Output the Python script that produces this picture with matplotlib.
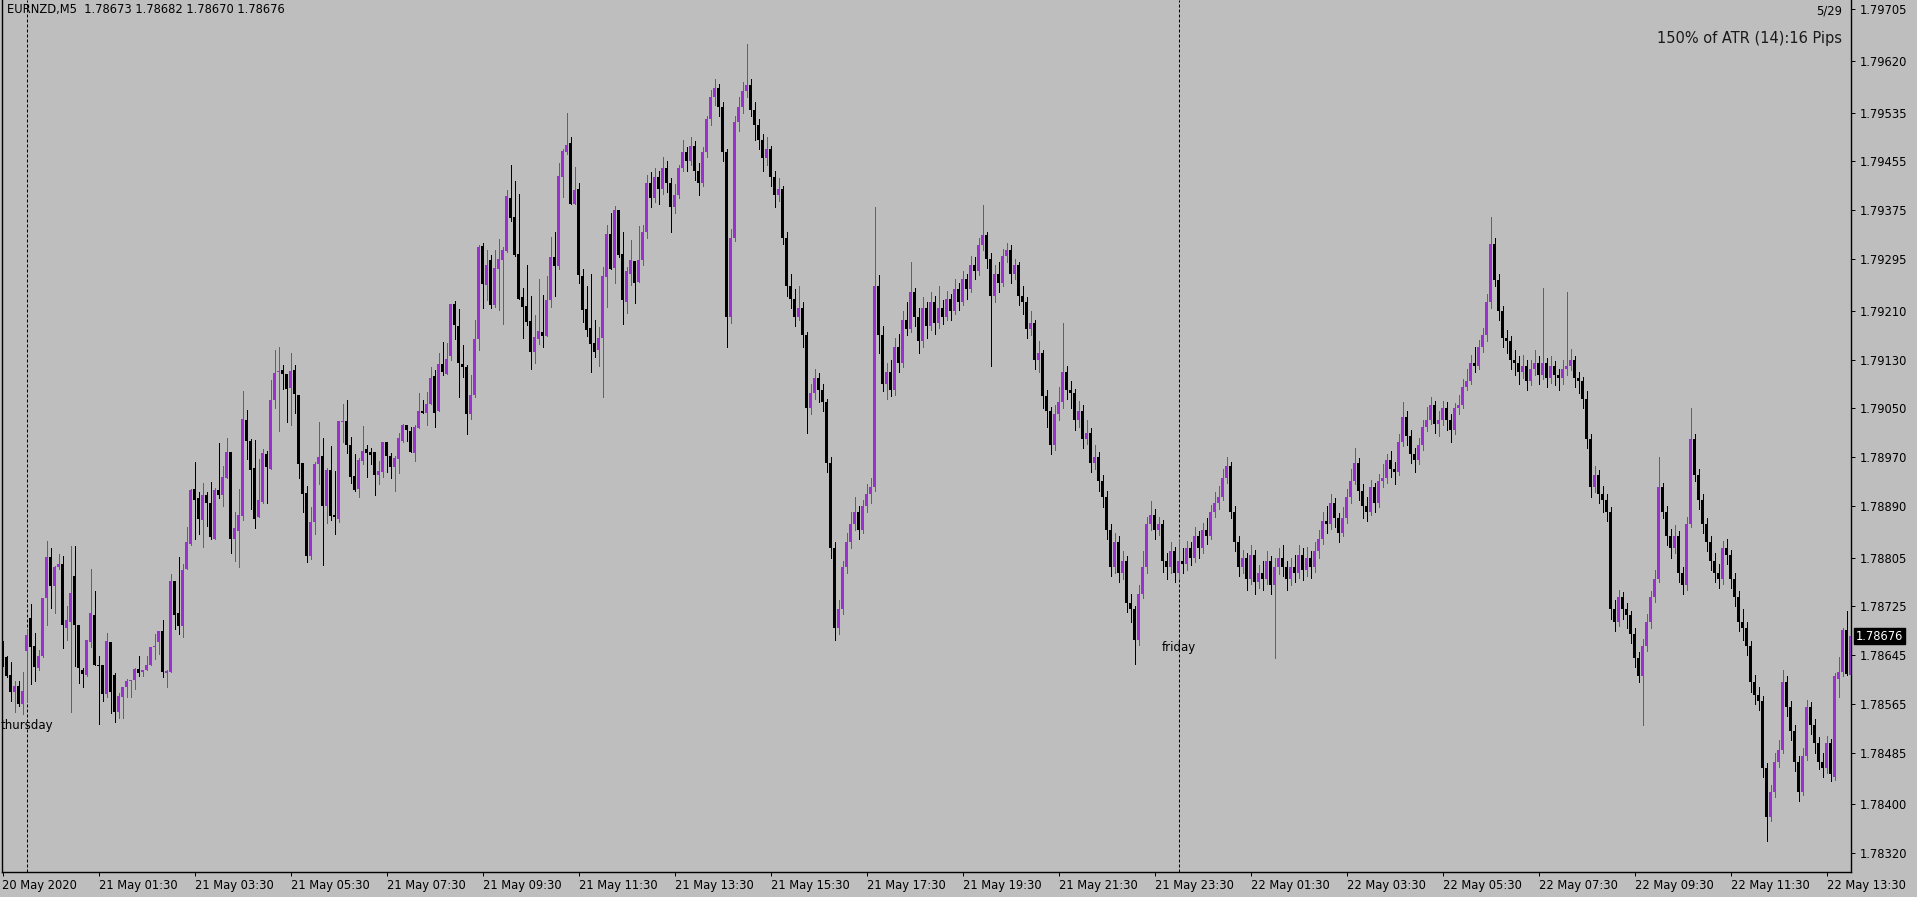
import numpy as np
import matplotlib
matplotlib.use("Agg")
import matplotlib.pyplot as plt

# Datos (EURNZD M5, precios en puntos sobre 1.78000)
symbol = "EURNZD,M5"
last_quote = "1.78673 1.78682 1.78670 1.78676"
atr_text = "150% of ATR (14):16 Pips"
bar_count_text = "5/29"
last_price = 1.78676

opens = [666, 642, 613, 585, 594, 564, 652, 706, 660, 623, 643, 738, 806, 758, 789, 795, 689, 700, 775, 694,
         621, 613, 666, 711, 629, 629, 581, 667, 612, 551, 577, 592, 602, 604, 622, 618, 621, 629, 659, 667,
         684, 615, 618, 767, 714, 693, 787, 827, 918, 903, 867, 908, 895, 836, 916, 908, 936, 978, 835, 849,
         873, 1031, 996, 952, 871, 897, 975, 951, 1063, 1110, 1113, 1106, 1084, 1113, 1072, 960, 911, 808, 864, 958,
         972, 889, 949, 875, 869, 1028, 1029, 990, 939, 917, 963, 983, 979, 979, 940, 946, 995, 972, 954, 966,
         997, 1023, 1013, 976, 1018, 1046, 1043, 1057, 1103, 1046, 1123, 1107, 1135, 1221, 1185, 1123, 1118, 1041, 1071, 1164,
         1317, 1253, 1294, 1220, 1279, 1293, 1308, 1395, 1364, 1303, 1233, 1218, 1194, 1143, 1163, 1175, 1169, 1227, 1299, 1284,
         1430, 1471, 1486, 1386, 1410, 1267, 1213, 1182, 1157, 1145, 1165, 1266, 1336, 1281, 1376, 1303, 1225, 1271, 1292, 1258,
         1294, 1340, 1420, 1395, 1430, 1410, 1445, 1420, 1380, 1400, 1445, 1470, 1455, 1480, 1440, 1420, 1470, 1525, 1560, 1575,
         1545, 1470, 1200, 1330, 1520, 1545, 1570, 1580, 1540, 1515, 1490, 1460, 1475, 1430, 1400, 1410, 1330, 1250, 1230, 1200,
         1215, 1170, 1050, 1075, 1100, 1080, 1060, 960, 820, 690, 720, 790, 830, 860, 880, 850, 890, 910, 920, 1250,
         1170, 1090, 1110, 1080, 1150, 1125, 1195, 1180, 1240, 1200, 1160, 1215, 1185, 1225, 1190, 1215, 1200, 1230, 1210, 1245,
         1225, 1262, 1245, 1285, 1275, 1318, 1335, 1295, 1235, 1270, 1255, 1300, 1310, 1270, 1285, 1235, 1225, 1180, 1190, 1130,
         1140, 1070, 1045, 990, 1040, 1060, 1110, 1080, 1075, 1030, 1045, 1000, 1010, 960, 970, 930, 905, 850, 790, 830,
         780, 800, 730, 720, 670, 745, 790, 860, 875, 850, 860, 800, 790, 815, 780, 800, 795, 820, 805, 840,
         820, 850, 840, 880, 895, 905, 935, 955, 880, 830, 790, 805, 770, 810, 765, 780, 770, 800, 760, 790,
         805, 790, 770, 790, 780, 810, 785, 805, 790, 815, 835, 865, 860, 895, 870, 845, 870, 905, 930, 960,
         915, 890, 880, 920, 895, 930, 935, 965, 950, 945, 995, 1035, 1005, 975, 965, 990, 1020, 1030, 1055, 1025,
         1030, 1050, 1030, 1015, 1050, 1055, 1085, 1095, 1125, 1120, 1150, 1170, 1225, 1320, 1260, 1210, 1165, 1160, 1130, 1125,
         1110, 1120, 1095, 1115, 1125, 1105, 1125, 1100, 1120, 1105, 1100, 1115, 1120, 1130, 1100, 1095, 1065, 1000, 920, 940,
         910, 900, 880, 720, 700, 740, 720, 710, 680, 640, 610, 660, 700, 740, 770, 920, 880, 840, 820, 840,
         780, 760, 860, 1000, 940, 900, 860, 830, 800, 780, 770, 820, 810, 770, 740, 700, 690, 660, 600, 580,
         570, 460, 380, 420, 470, 490, 600, 560, 520, 470, 420, 480, 560, 530, 500, 470, 460, 500, 445, 605,
         617, 686, 612]
highs = [668, 643, 633, 603, 602, 617, 686, 729, 682, 653, 739, 832, 821, 791, 811, 808, 726, 824, 824, 694,
         623, 670, 786, 750, 643, 629, 681, 667, 615, 582, 593, 606, 604, 623, 643, 621, 643, 659, 680, 684,
         702, 621, 778, 767, 806, 795, 855, 918, 962, 913, 928, 913, 929, 919, 993, 955, 1001, 978, 880, 918,
         1079, 1047, 1000, 998, 967, 983, 980, 1097, 1146, 1151, 1121, 1106, 1141, 1121, 1072, 960, 923, 888, 962, 1028,
         1002, 952, 988, 947, 1029, 1057, 1064, 1003, 975, 969, 1021, 990, 985, 979, 964, 995, 995, 977, 972, 1009,
         1025, 1023, 1020, 1022, 1075, 1064, 1077, 1117, 1112, 1141, 1159, 1157, 1221, 1226, 1213, 1154, 1121, 1105, 1195, 1318,
         1322, 1310, 1302, 1310, 1328, 1315, 1409, 1450, 1423, 1402, 1248, 1285, 1235, 1203, 1262, 1236, 1267, 1331, 1340, 1453,
         1476, 1535, 1495, 1446, 1420, 1279, 1251, 1271, 1195, 1184, 1282, 1351, 1371, 1382, 1376, 1340, 1282, 1326, 1292, 1349,
         1350, 1432, 1438, 1445, 1440, 1462, 1455, 1428, 1418, 1450, 1490, 1478, 1495, 1488, 1452, 1478, 1530, 1572, 1590, 1582,
         1552, 1475, 1345, 1530, 1560, 1585, 1648, 1590, 1552, 1525, 1500, 1495, 1480, 1440, 1428, 1415, 1340, 1270, 1245, 1250,
         1225, 1175, 1090, 1115, 1108, 1090, 1065, 970, 830, 735, 800, 845, 880, 905, 890, 900, 925, 935, 1380, 1268,
         1185, 1125, 1130, 1165, 1172, 1210, 1225, 1290, 1248, 1215, 1232, 1225, 1240, 1235, 1250, 1228, 1242, 1238, 1262, 1255,
         1275, 1270, 1300, 1298, 1330, 1384, 1340, 1305, 1285, 1290, 1312, 1322, 1318, 1295, 1290, 1250, 1232, 1210, 1195, 1160,
         1145, 1080, 1052, 1055, 1085, 1190, 1120, 1095, 1082, 1062, 1055, 1030, 1018, 990, 978, 940, 915, 860, 845, 840,
         815, 808, 745, 725, 760, 815, 872, 898, 885, 872, 866, 812, 830, 822, 835, 820, 832, 830, 855, 848,
         862, 870, 892, 912, 922, 950, 970, 962, 890, 840, 818, 812, 825, 818, 792, 800, 815, 808, 805, 820,
         825, 800, 805, 810, 825, 820, 822, 815, 830, 850, 880, 890, 910, 902, 878, 888, 918, 950, 985, 968,
         925, 905, 932, 928, 942, 958, 975, 980, 962, 1008, 1060, 1045, 1015, 985, 1002, 1030, 1052, 1068, 1062, 1045,
         1062, 1060, 1040, 1058, 1072, 1098, 1115, 1138, 1150, 1162, 1182, 1238, 1364, 1330, 1270, 1218, 1178, 1168, 1145, 1135,
         1138, 1130, 1130, 1145, 1135, 1248, 1132, 1135, 1128, 1115, 1130, 1240, 1148, 1136, 1110, 1102, 1078, 1008, 955, 948,
         922, 910, 888, 735, 752, 748, 730, 718, 690, 650, 672, 712, 750, 785, 970, 928, 890, 852, 858, 848,
         790, 872, 1050, 1008, 950, 910, 870, 840, 812, 795, 832, 835, 818, 780, 750, 720, 700, 668, 612, 592,
         578, 468, 432, 485, 505, 620, 610, 570, 530, 480, 492, 572, 568, 540, 510, 485, 512, 508, 615, 642,
         690, 718, 706]
lows = [627, 609, 570, 552, 562, 549, 569, 598, 603, 621, 642, 695, 723, 714, 787, 656, 670, 552, 627, 599,
        592, 611, 659, 628, 532, 570, 577, 550, 535, 541, 541, 577, 577, 590, 610, 610, 620, 629, 638, 646,
        609, 592, 618, 687, 680, 674, 787, 825, 836, 843, 822, 856, 835, 836, 902, 889, 935, 812, 799, 789,
        866, 966, 884, 853, 871, 894, 895, 951, 1050, 1012, 1082, 1027, 1022, 1043, 935, 879, 797, 802, 844, 925,
        792, 861, 866, 843, 864, 994, 976, 928, 915, 905, 959, 938, 958, 907, 925, 938, 946, 935, 915, 943,
        995, 997, 979, 963, 1018, 1043, 1022, 1057, 1020, 1046, 1105, 1107, 1130, 1163, 1068, 1102, 1007, 1033, 1069, 1146,
        1215, 1227, 1214, 1217, 1212, 1189, 1306, 1357, 1300, 1229, 1166, 1186, 1114, 1124, 1156, 1150, 1169, 1217, 1235, 1279,
        1396, 1468, 1386, 1386, 1256, 1192, 1168, 1110, 1134, 1120, 1068, 1217, 1279, 1256, 1298, 1188, 1207, 1253, 1222, 1258,
        1285, 1330, 1380, 1388, 1385, 1402, 1405, 1340, 1370, 1395, 1440, 1440, 1450, 1425, 1400, 1415, 1462, 1515, 1548, 1530,
        1455, 1150, 1190, 1325, 1505, 1535, 1560, 1530, 1490, 1475, 1440, 1450, 1415, 1380, 1390, 1320, 1235, 1215, 1185, 1195,
        1150, 1010, 1040, 1065, 1060, 1045, 945, 805, 670, 680, 712, 780, 820, 850, 835, 845, 880, 895, 915, 1140,
        1078, 1065, 1070, 1072, 1110, 1118, 1170, 1175, 1185, 1140, 1150, 1165, 1178, 1172, 1182, 1188, 1195, 1195, 1205, 1212,
        1220, 1230, 1240, 1262, 1268, 1310, 1280, 1120, 1225, 1240, 1250, 1290, 1255, 1262, 1220, 1205, 1165, 1170, 1115, 1110,
        1050, 1020, 975, 982, 1030, 1050, 1065, 1050, 1015, 1020, 985, 992, 945, 950, 915, 888, 835, 775, 780, 765,
        770, 715, 700, 630, 662, 738, 780, 850, 835, 842, 782, 770, 780, 765, 772, 780, 785, 792, 798, 805,
        812, 828, 835, 872, 885, 900, 928, 870, 815, 775, 780, 752, 762, 745, 755, 752, 762, 745, 640, 778,
        775, 752, 760, 765, 772, 768, 775, 772, 782, 805, 828, 845, 852, 855, 830, 840, 862, 895, 925, 900,
        870, 865, 875, 880, 888, 920, 928, 938, 925, 940, 988, 990, 960, 945, 958, 982, 1012, 1025, 1010, 1005,
        1022, 1015, 995, 1008, 1040, 1050, 1080, 1090, 1110, 1115, 1142, 1160, 1215, 1250, 1195, 1150, 1140, 1115, 1105, 1090,
        1100, 1080, 1088, 1105, 1090, 1098, 1085, 1092, 1088, 1080, 1090, 1105, 1112, 1085, 1075, 1050, 985, 905, 912, 895,
        880, 865, 705, 685, 692, 705, 690, 665, 625, 600, 530, 652, 690, 732, 765, 870, 825, 805, 812, 765,
        745, 752, 855, 930, 885, 845, 815, 785, 765, 755, 762, 795, 755, 725, 685, 670, 645, 585, 565, 555,
        445, 340, 372, 412, 462, 485, 545, 505, 455, 405, 415, 472, 515, 485, 458, 445, 452, 438, 440, 577,
        610, 612, 566]
closes = [630, 610, 585, 594, 565, 586, 678, 659, 625, 644, 738, 806, 758, 790, 795, 695, 702, 747, 694, 623,
          614, 670, 714, 628, 627, 581, 668, 584, 551, 578, 593, 603, 604, 622, 616, 621, 629, 659, 660, 684,
          618, 619, 767, 710, 692, 785, 831, 916, 899, 869, 908, 895, 838, 916, 907, 937, 978, 835, 854, 875,
          1033, 997, 948, 869, 900, 977, 953, 1064, 1108, 1111, 1107, 1081, 1111, 1074, 959, 910, 808, 864, 959, 970,
          889, 949, 874, 871, 1029, 1029, 989, 938, 916, 965, 980, 976, 974, 941, 947, 995, 971, 954, 969, 1001,
          1023, 1015, 979, 1020, 1046, 1043, 1057, 1100, 1043, 1123, 1110, 1131, 1221, 1186, 1125, 1117, 1040, 1072, 1164, 1315,
          1254, 1285, 1220, 1281, 1295, 1310, 1399, 1363, 1302, 1229, 1217, 1191, 1142, 1167, 1177, 1169, 1228, 1299, 1283, 1431,
          1472, 1482, 1386, 1409, 1268, 1212, 1179, 1156, 1143, 1166, 1267, 1336, 1279, 1376, 1301, 1227, 1276, 1294, 1255, 1294,
          1340, 1420, 1395, 1430, 1410, 1445, 1420, 1380, 1400, 1445, 1470, 1455, 1480, 1440, 1420, 1470, 1525, 1560, 1575, 1545,
          1470, 1200, 1330, 1520, 1545, 1570, 1580, 1540, 1515, 1490, 1460, 1475, 1430, 1400, 1410, 1330, 1250, 1230, 1200, 1215,
          1170, 1050, 1075, 1100, 1080, 1060, 960, 820, 690, 720, 790, 830, 860, 880, 850, 890, 910, 920, 1250, 1170,
          1090, 1110, 1080, 1150, 1125, 1195, 1180, 1240, 1200, 1160, 1215, 1185, 1225, 1190, 1215, 1200, 1230, 1210, 1245, 1225,
          1262, 1245, 1285, 1275, 1318, 1335, 1295, 1235, 1270, 1255, 1300, 1310, 1270, 1285, 1235, 1225, 1180, 1190, 1130, 1140,
          1070, 1045, 990, 1040, 1060, 1110, 1080, 1075, 1030, 1045, 1000, 1010, 960, 970, 930, 905, 850, 790, 830, 780,
          800, 730, 720, 670, 745, 790, 860, 875, 850, 860, 800, 790, 815, 780, 800, 795, 820, 805, 840, 820,
          850, 840, 880, 895, 905, 935, 955, 880, 830, 790, 805, 770, 810, 765, 780, 770, 800, 760, 790, 805,
          790, 770, 790, 780, 810, 785, 805, 790, 815, 835, 865, 860, 895, 870, 845, 870, 905, 930, 960, 915,
          890, 880, 920, 895, 930, 935, 965, 950, 945, 995, 1035, 1005, 975, 965, 990, 1020, 1030, 1055, 1025, 1030,
          1050, 1030, 1015, 1050, 1055, 1085, 1095, 1125, 1120, 1150, 1170, 1225, 1320, 1260, 1210, 1165, 1160, 1130, 1125, 1110,
          1120, 1095, 1115, 1125, 1105, 1125, 1100, 1120, 1105, 1100, 1115, 1120, 1130, 1100, 1095, 1065, 1000, 920, 940, 910,
          900, 880, 720, 700, 740, 720, 710, 680, 640, 610, 660, 700, 740, 770, 920, 880, 840, 820, 840, 780,
          760, 860, 1000, 940, 900, 860, 830, 800, 780, 770, 820, 810, 770, 740, 700, 690, 660, 600, 580, 570,
          460, 380, 420, 470, 490, 600, 560, 520, 470, 420, 480, 560, 530, 500, 470, 460, 500, 450, 610, 618,
          686, 614, 676]

tick_labels = ["20 May 2020", "21 May 01:30", "21 May 03:30", "21 May 05:30", "21 May 07:30",
               "21 May 09:30", "21 May 11:30", "21 May 13:30", "21 May 15:30", "21 May 17:30",
               "21 May 19:30", "21 May 21:30", "21 May 23:30", "22 May 01:30", "22 May 03:30",
               "22 May 05:30", "22 May 07:30", "22 May 09:30", "22 May 11:30", "22 May 13:30"]
price_ticks = [1.79705, 1.79620, 1.79535, 1.79455, 1.79375, 1.79295, 1.79210, 1.79130, 1.79050,
               1.78970, 1.78890, 1.78805, 1.78725, 1.78645, 1.78565, 1.78485, 1.78400, 1.78320]
day_names = ["thursday", "friday"]
day_bars = [6, 294]          # primera barra de cada dia
day_label_prices = [1.78530, 1.78657]

bg = "#BEBEBE"
bull = "#9932CC"
bear = "#000000"

base = 1.78
o = base + np.array(opens) * 1e-5
h = base + np.array(highs) * 1e-5
l = base + np.array(lows) * 1e-5
c = base + np.array(closes) * 1e-5
idx = np.arange(len(c))
cols = np.where(c >= o, bull, bear)

W, H = 1917, 897
fig = plt.figure(figsize=(W / 100, H / 100), dpi=100, facecolor=bg)
ax = fig.add_axes([2 / W, 25 / H, 1849 / W, 872 / H], facecolor=bg)

px = 0.72
ax.vlines(idx, l, h, colors=cols, lw=px, antialiased=False, zorder=2)
body_h = np.maximum(np.abs(c - o), 1.6e-5)
ax.bar(idx, body_h, bottom=np.minimum(o, c), width=0.75, color=cols, linewidth=0,
       antialiased=False, zorder=3)

for b in day_bars:
    ax.axvline(b, color="black", lw=px, ls=(0, (3, 2)), zorder=1)
for name, b, p in zip(day_names, day_bars, day_label_prices):
    ax.text(b, p, name, ha="center", va="center", fontsize=8.5, color="black", zorder=4)

ax.set_xlim(-0.125, 462.125)
ax.set_ylim(1.78289, 1.79720)

ax.set_xticks(np.arange(len(tick_labels)) * 24)
ax.set_xticklabels(tick_labels, ha="left")
ax.set_yticks(price_ticks)
ax.set_yticklabels([f"{v:.5f}" for v in price_ticks])
ax.yaxis.tick_right()
ax.tick_params(axis="both", direction="out", length=3, width=px, color="black",
               labelsize=8.3, labelcolor="black")
ax.tick_params(axis="x", pad=2)
ax.tick_params(axis="y", pad=3)
ax.spines["top"].set_visible(False)
for s in ["left", "right", "bottom"]:
    ax.spines[s].set_linewidth(px * 1.4)
    ax.spines[s].set_color("black")

ax.annotate(f"{last_price:.5f}", xy=(1, last_price), xycoords=("axes fraction", "data"),
            xytext=(5, 0), textcoords="offset pixels", ha="left", va="center",
            fontsize=8.3, color="white", annotation_clip=False, zorder=10,
            bbox=dict(boxstyle="square,pad=0.15", fc="black", ec="black"))

fig.text(7 / W, 1 - 9 / H, f"{symbol}  {last_quote}", ha="left", va="center",
         fontsize=8.3, color="black")
fig.text(1842 / W, 1 - 11 / H, bar_count_text, ha="right", va="center",
         fontsize=8.3, color="black")
fig.text(1842 / W, 1 - 38 / H, atr_text, ha="right", va="center",
         fontsize=10.5, color="#1a1a1a")

fig.savefig("out.png", dpi=100, facecolor=bg)
